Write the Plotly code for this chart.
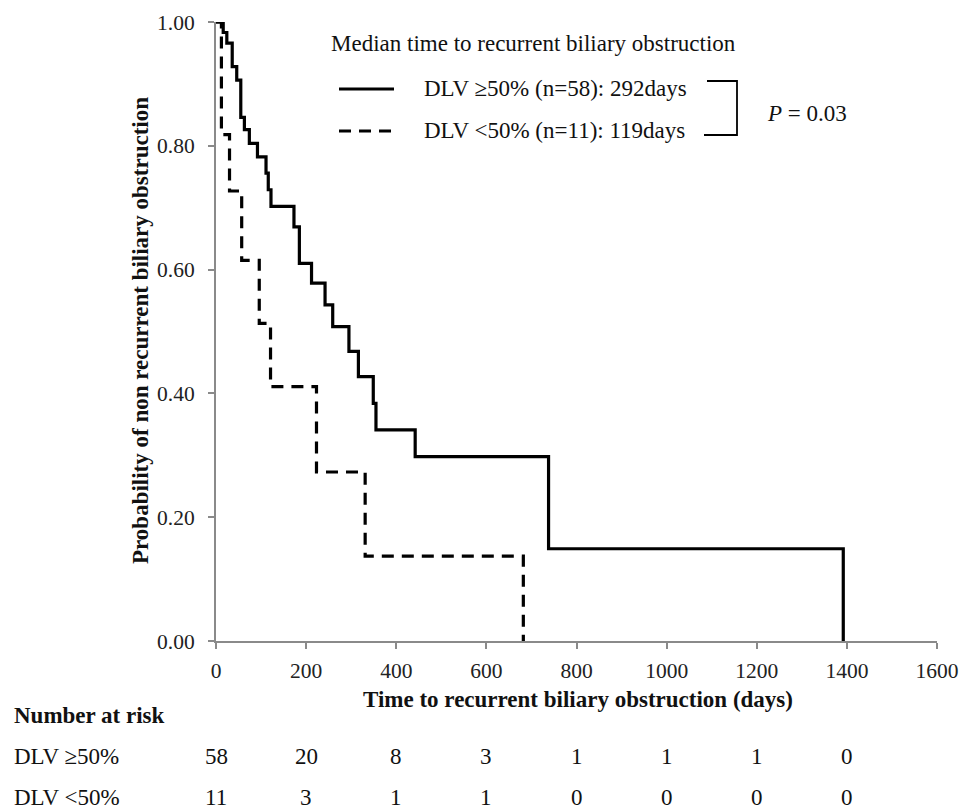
import plotly.graph_objects as go

# ---------------- data ----------------
dlv_high_days = [0, 16, 24, 36, 46, 55, 63, 74, 92, 111, 116, 122, 173, 185, 212, 242, 259, 295, 316, 349, 355, 442, 738, 1392]
dlv_high_surv = [1.0, 0.983, 0.966, 0.928, 0.906, 0.846, 0.826, 0.804, 0.782, 0.756, 0.729, 0.702, 0.669, 0.610, 0.578, 0.543, 0.508, 0.468, 0.427, 0.384, 0.341, 0.298, 0.149, 0.0]

dlv_low_days = [0, 12, 30, 57, 96, 121, 223, 331, 682]
dlv_low_surv = [1.0, 0.818, 0.727, 0.615, 0.513, 0.411, 0.273, 0.137, 0.0]

risk_times = [0, 200, 400, 600, 800, 1000, 1200, 1400]
risk_high = [58, 20, 8, 3, 1, 1, 1, 0]
risk_low = [11, 3, 1, 1, 0, 0, 0, 0]

x_ticks = [0, 200, 400, 600, 800, 1000, 1200, 1400, 1600]
y_ticks = [0.0, 0.2, 0.4, 0.6, 0.8, 1.0]

label_high = "DLV \u226550% (n=58): 292days"
label_low = "DLV <50% (n=11): 119days"
row_high = "DLV \u226550%"
row_low = "DLV <50%"

# ---------------- layout geometry (pixels) ----------------
W, H = 971, 809
L, R, T, B = 216, 937, 22, 641
FONT = "Liberation Serif"
FS = 23


def px(X):
    return (X - L) / (R - L)


def py(Y):
    return (B - Y) / (B - T)


fig = go.Figure()
fig.add_trace(go.Scatter(x=dlv_high_days, y=dlv_high_surv, mode="lines", line_shape="hv",
                         line=dict(color="black", width=3.2), showlegend=False))
fig.add_trace(go.Scatter(x=dlv_low_days, y=dlv_low_surv, mode="lines", line_shape="hv",
                         line=dict(color="black", width=3.2, dash="12px,8px"), showlegend=False))


def txt(text, X, Y, anchor="left", angle=0, xref="paper", xval=None):
    return dict(text=text, textangle=angle,
                x=px(X) if xval is None else xval, y=py(Y), xref=xref, yref="paper",
                showarrow=False, xanchor=anchor, yanchor="middle",
                font=dict(size=FS, family=FONT, color="#111"))


ann = [
    txt("<b>Probability of non recurrent biliary obstruction</b>", 140, 331, "center", -90),
    txt("<b>Time to recurrent biliary obstruction (days)</b>", 578, 699, "center"),
    txt("Median time to recurrent biliary obstruction", 329, 43),
    txt(label_high, 422, 89),
    txt(label_low, 422, 131),
    txt("<i>P</i> = 0.03", 765, 113),
    txt("<b>Number at risk</b>", 12, 715),
    txt(row_high, 12, 756),
    txt(row_low, 12, 797),
]
for t, v in zip(risk_times, risk_high):
    ann.append(txt(str(v), 0, 756, "center", xref="x", xval=t))
for t, v in zip(risk_times, risk_low):
    ann.append(txt(str(v), 0, 797, "center", xref="x", xval=t))

shapes = [
    dict(type="line", xref="paper", yref="paper", x0=px(339), x1=px(394), y0=py(89), y1=py(89),
         line=dict(color="black", width=3)),
    dict(type="line", xref="paper", yref="paper", x0=px(339), x1=px(391), y0=py(131), y1=py(131),
         line=dict(color="black", width=3, dash="12px,8px")),
    dict(type="path", xref="paper", yref="paper",
         path=f"M {px(707)} {py(81)} L {px(737)} {py(81)} L {px(737)} {py(135)} L {px(704)} {py(135)}",
         line=dict(color="black", width=1.8)),
]

fig.update_layout(
    width=W, height=H,
    margin=dict(l=L, r=W - R, t=T, b=H - B),
    paper_bgcolor="white", plot_bgcolor="white",
    font=dict(family=FONT, size=21, color="#222"),
    annotations=ann, shapes=shapes, showlegend=False,
    xaxis=dict(range=[0, 1600], tickvals=x_ticks, showgrid=False, zeroline=False,
               showline=True, linecolor="#8a8a8a", linewidth=2, ticks="outside", ticklen=6,
               tickwidth=1.5, tickcolor="#8a8a8a", ticklabelstandoff=3,
               tickfont=dict(size=21.5, family=FONT, color="#222")),
    yaxis=dict(range=[0, 1], tickvals=y_ticks, tickformat=".2f", showgrid=False, zeroline=False,
               showline=True, linecolor="#8a8a8a", linewidth=2, ticks="outside", ticklen=6,
               tickwidth=1.5, tickcolor="#8a8a8a", ticklabelstandoff=9,
               tickfont=dict(size=21.5, family=FONT, color="#222")),
)

fig.write_html("out.html")
